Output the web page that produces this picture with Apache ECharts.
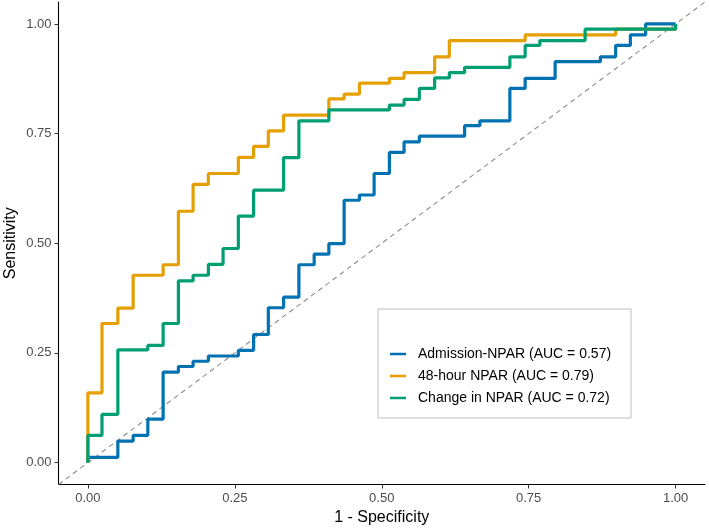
<!DOCTYPE html>
<html>
<head>
<meta charset="utf-8">
<script src="https://cdn.jsdelivr.net/npm/echarts@6/dist/echarts.min.js"></script>
<style>
  html, body { margin: 0; padding: 0; background: #fff; }
  #roc { width: 709px; height: 529px; }
</style>
</head>
<body>
<div id="roc"></div>
<script>
// ROC step points: 1 - specificity (fpr) and sensitivity (tpr)
const admissionFpr = [0, 0, 0.051, 0.077, 0.102, 0.128, 0.154, 0.179, 0.205, 0.256, 0.282, 0.307, 0.333,
    0.359, 0.385, 0.41, 0.436, 0.462, 0.487, 0.513, 0.538, 0.564, 0.641, 0.667, 0.718, 0.744, 0.795,
    0.872, 0.898, 0.923, 0.949, 1.0];
const admissionTpr = [0, 0.012, 0.049, 0.062, 0.099, 0.206, 0.219, 0.231, 0.243, 0.256, 0.292, 0.353, 0.377,
    0.451, 0.475, 0.499, 0.598, 0.610, 0.659, 0.707, 0.731, 0.744, 0.768, 0.779, 0.853, 0.876, 0.914,
    0.925, 0.951, 0.975, 1.0, 1.0];

const h48Fpr = [0, 0, 0.024, 0.051, 0.077, 0.128, 0.154, 0.179, 0.205, 0.256, 0.282, 0.307, 0.333,
    0.41, 0.436, 0.462, 0.513, 0.538, 0.59, 0.615, 0.744, 0.898, 1.0, 1.0];
const h48Tpr = [0, 0.159, 0.317, 0.352, 0.427, 0.451, 0.573, 0.634, 0.659, 0.696, 0.721, 0.756, 0.792,
    0.829, 0.840, 0.865, 0.876, 0.889, 0.925, 0.962, 0.975, 0.988, 0.988, 1.0];

const changeFpr = [0, 0, 0.024, 0.051, 0.102, 0.128, 0.154, 0.179, 0.205, 0.230, 0.256, 0.282, 0.333,
    0.359, 0.41, 0.513, 0.538, 0.564, 0.59, 0.615, 0.641, 0.718, 0.744, 0.769, 0.846, 1.0];
const changeTpr = [0, 0.062, 0.110, 0.257, 0.267, 0.317, 0.414, 0.427, 0.452, 0.488, 0.562, 0.621, 0.695,
    0.779, 0.804, 0.815, 0.828, 0.853, 0.877, 0.889, 0.901, 0.925, 0.951, 0.962, 0.988, 1.0];

const seriesNames = ["Admission-NPAR (AUC = 0.57)", "48-hour NPAR (AUC = 0.79)", "Change in NPAR (AUC = 0.72)"];
const seriesColors = ["#0072B2", "#E69F00", "#009E73"];
const tickValues = [0, 0.25, 0.5, 0.75, 1];

const font = "'Liberation Sans', Arial, sans-serif";
const zip = (xs, ys) => xs.map((x, i) => [x, ys[i]]);

const chart = echarts.init(document.getElementById("roc"));

//shared axis look
const axisBase = {
    type: "value",
    min: -0.05,
    max: 1.05,
    nameLocation: "middle",
    nameMoveOverlap: false,
    nameTextStyle: { color: "#000", fontSize: 16, fontFamily: font },
    axisLine: { show: true, onZero: false, lineStyle: { color: "#000", width: 1.1 } },
    axisTick: { show: true, length: 4, customValues: tickValues, lineStyle: { color: "#333", width: 1 } },
    axisLabel: { customValues: tickValues, color: "#4d4d4d", fontSize: 13, fontFamily: font, margin: 7,
        formatter: v => v.toFixed(2) },
    splitLine: { show: false }
};

const curve = (name, data, color) => ({
    name: name,
    type: "line",
    step: "end",
    data: data,
    showSymbol: false,
    symbol: "none",
    lineStyle: { color: color, width: 3.2 },
    itemStyle: { color: color },
    z: 3
});

chart.setOption({
    animation: false,
    backgroundColor: "#fff",
    grid: { left: 58.5, right: 4, top: 2, bottom: 44.5, containLabel: false, outerBoundsMode: "none" },
    xAxis: Object.assign({}, axisBase, { name: "1 - Specificity", nameGap: 25 }),
    yAxis: Object.assign({}, axisBase, { name: "Sensitivity", nameGap: 40 }),
    legend: {
        orient: "vertical",
        left: 378,
        top: 309,
        padding: [38, 20, 13, 12],
        itemWidth: 16,
        itemHeight: 14,
        itemGap: 8,
        borderColor: "#bdbdbd",
        borderWidth: 1,
        icon: "path://M0,6 L16,6 L16,8.5 L0,8.5 Z",
        data: seriesNames,
        textStyle: { color: "#000", fontSize: 14, fontFamily: font, padding: [0, 0, 0, 7] }
    },
    series: [
        {
            type: "line",
            data: [[-0.05, -0.05], [1.05, 1.05]],
            showSymbol: false,
            symbol: "none",
            silent: true,
            lineStyle: { color: "#8c8c8c", width: 1.1, type: [5, 4] },
            z: 1
        },
        curve(seriesNames[0], zip(admissionFpr, admissionTpr), seriesColors[0]),
        curve(seriesNames[1], zip(h48Fpr, h48Tpr), seriesColors[1]),
        curve(seriesNames[2], zip(changeFpr, changeTpr), seriesColors[2])
    ]
});
</script>
</body>
</html>
